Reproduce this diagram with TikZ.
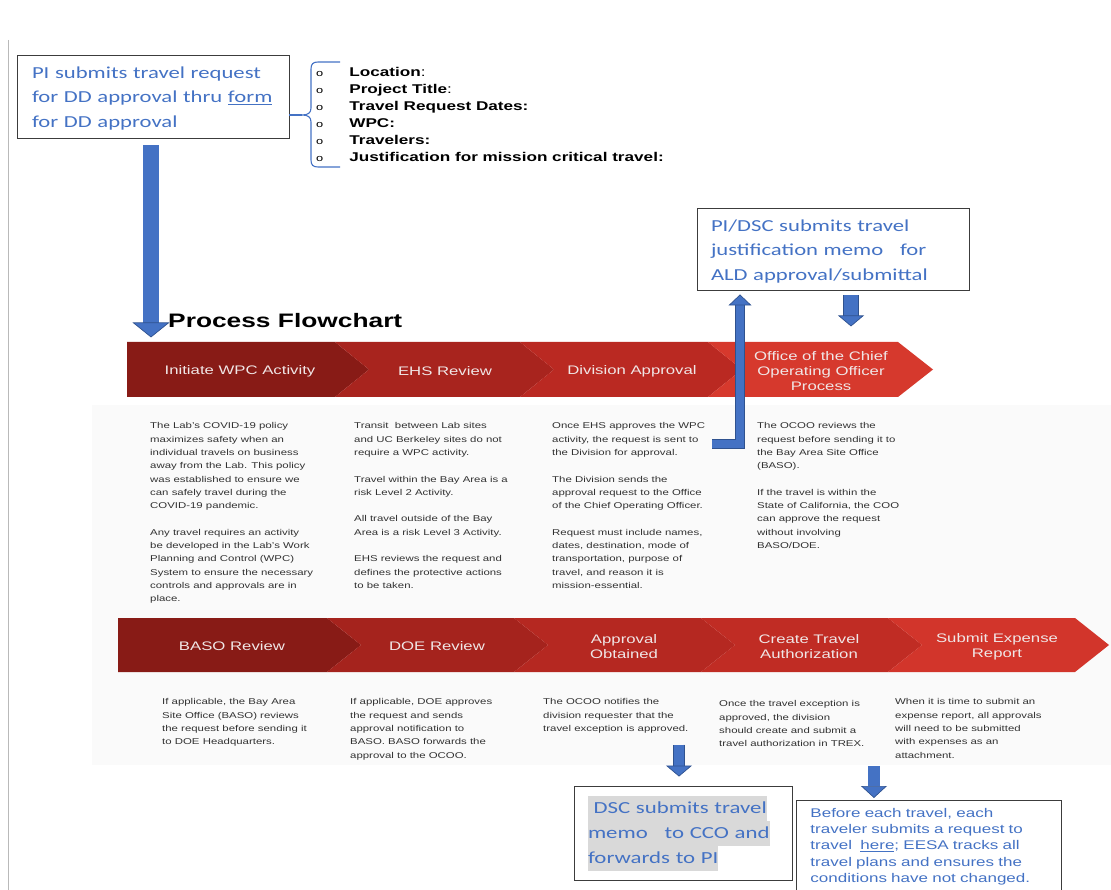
\documentclass[tikz,border=0pt]{standalone}
\usepackage{fontspec}
\setmainfont{Liberation Sans}[FakeStretch=1.35]
\newfontfamily\calfont{Carlito}[FakeStretch=1.35]
\usetikzlibrary{arrows.meta, calc}
\definecolor{memoblue}{RGB}{68,114,196}
\definecolor{arrowblue}{RGB}{68,114,196}
\definecolor{arrowedge}{RGB}{47,82,143}
\definecolor{boxedge}{RGB}{60,60,60}
\definecolor{hlgray}{RGB}{217,217,217}
\definecolor{labelgray}{RGB}{240,230,230}
\definecolor{notegray}{RGB}{50,50,50}
\definecolor{chevA}{RGB}{136,27,22}
\definecolor{chevB}{RGB}{168,36,30}
\definecolor{chevC}{RGB}{186,41,34}
\definecolor{chevD}{RGB}{214,57,45}
\definecolor{chevE}{RGB}{165,35,29}
\definecolor{chevF}{RGB}{181,40,33}
\definecolor{chevG}{RGB}{192,44,36}
\definecolor{chevH}{RGB}{210,53,43}
\tikzstyle{memobox} = [draw=boxedge, line width=0.9pt, inner sep=0,
    align=left, text=memoblue, font=\calfont\fontsize{16.8}{24.5}\selectfont]
\tikzstyle{stage} = [text=labelgray, align=center,
    font=\fontsize{12.4}{15}\selectfont]
\tikzstyle{note} = [anchor=north west, align=left, inner sep=0,
    text=notegray, font=\fontsize{8.45}{13.3}\selectfont, execute at begin node=\strut]
\tikzstyle{blockarrow} = [draw=arrowedge, line width=0.7pt, double=arrowblue]
\tikzstyle{bracket} = [draw=memoblue, line width=1.1pt]
\newcommand{\hlbox}[1]{{\setlength{\fboxsep}{0pt}\colorbox{hlgray}{\strut #1}}}

\begin{document}
\begin{tikzpicture}[x=1pt, y=-1pt]
\useasboundingbox (0,0) rectangle (1111,890);

%% page edge and note band
\draw[gray!55, line width=0.6pt] (8,40) -- (8,890);
\fill[black!2] (92,405) rectangle (1111,765);

%%% travel request
\node[memobox, minimum width=272pt, minimum height=83pt, text width=242pt] (req) at (153,96.5)
    {\rule{0pt}{15pt}PI submits travel request\\for DD approval thru \underline{form}\\for DD approval};

\node[anchor=base west, inner sep=0, font=\fontsize{12.7}{17}\selectfont] (fields) at (316,77)
    {\begin{tabular}[t]{@{}l@{\hspace{26pt}}l@{}}
    {\fontsize{9.5}{17}\selectfont o} & \textbf{Location}: \\
    {\fontsize{9.5}{17}\selectfont o} & \textbf{Project Title}: \\
    {\fontsize{9.5}{17}\selectfont o} & \textbf{Travel Request Dates:} \\
    {\fontsize{9.5}{17}\selectfont o} & \textbf{WPC:} \\
    {\fontsize{9.5}{17}\selectfont o} & \textbf{Travelers:} \\
    {\fontsize{9.5}{17}\selectfont o} & \textbf{Justification for mission critical travel:}
    \end{tabular}};

\coordinate (bracetip) at (302,115);
\draw[bracket] (340,62) -- (318,62) .. controls (313,62) and (311,64) .. (311,69) -- (311,108)
    .. controls (311,113) and (308,115) .. (bracetip) .. controls (308,115) and (311,117) .. (311,122)
    -- (311,160) .. controls (311,165) and (313,167) .. (318,167) -- (340,167);
\draw[bracket] (req.east |- bracetip) -- (bracetip);

%%% first row
\fill[chevA] (127,342) -- (335,342) -- (369,369.5) -- (335,397) -- (127,397) -- cycle;
\fill[chevB] (335,342) -- (520,342) -- (554,369.5) -- (520,397) -- (335,397) -- (369,369.5) -- cycle;
\fill[chevC] (520,342) -- (708,342) -- (742,369.5) -- (708,397) -- (520,397) -- (554,369.5) -- cycle;
\fill[chevD] (708,342) -- (898,342) -- (933,369.5) -- (898,397) -- (708,397) -- (742,369.5) -- cycle;

\node[stage] (init) at (240,371.5) {Initiate WPC Activity};
\node[stage] (ehs) at (445,371.5) {EHS Review};
\node[stage] (div) at (632,371.5) {Division Approval};
\node[stage] (ocoo) at (821,371) {Office of the Chief\\Operating Officer\\Process};

\node[note] (n11) at (150,422.5) {The Lab's COVID-19 policy\\maximizes safety when an\\individual travels on business\\away from the Lab. This policy\\was established to ensure we\\can safely travel during the\\COVID-19 pandemic.\\[13.3pt]Any travel requires an activity\\be developed in the Lab's Work\\Planning and Control (WPC)\\System to ensure the necessary\\controls and approvals are in\\place.};
\node[note] (n12) at (354,422.5) {Transit\ \ between Lab sites\\and UC Berkeley sites do not\\require a WPC activity.\\[13.3pt]Travel within the Bay Area is a\\risk Level 2 Activity.\\[13.3pt]All travel outside of the Bay\\Area is a risk Level 3 Activity.\\[13.3pt]EHS reviews the request and\\defines the protective actions\\to be taken.};
\node[note] (n13) at (552,422.5) {Once EHS approves the WPC\\activity, the request is sent to\\the Division for approval.\\[13.3pt]The Division sends the\\approval request to the Office\\of the Chief Operating Officer.\\[13.3pt]Request must include names,\\dates, destination, mode of\\transportation, purpose of\\travel, and reason it is\\mission-essential.};
\node[note] (n14) at (757,422.5) {The OCOO reviews the\\request before sending it to\\the Bay Area Site Office\\(BASO).\\[13.3pt]If the travel is within the\\State of California, the COO\\can approve the request\\without involving\\BASO/DOE.};

%%% second row
\fill[chevA] (118,618) -- (327,618) -- (361,645) -- (327,672) -- (118,672) -- cycle;
\fill[chevE] (327,618) -- (514,618) -- (548,645) -- (514,672) -- (327,672) -- (361,645) -- cycle;
\fill[chevF] (514,618) -- (701,618) -- (735,645) -- (701,672) -- (514,672) -- (548,645) -- cycle;
\fill[chevG] (701,618) -- (888,618) -- (922,645) -- (888,672) -- (701,672) -- (735,645) -- cycle;
\fill[chevH] (888,618) -- (1075,618) -- (1109,645) -- (1075,672) -- (888,672) -- (922,645) -- cycle;

\node[stage] (baso) at (232,646.5) {BASO Review};
\node[stage] (doe) at (437,646.5) {DOE Review};
\node[stage] (obt) at (624,646.5) {Approval\\Obtained};
\node[stage] (cta) at (809,646.5) {Create Travel\\Authorization};
\node[stage] (ser) at (997,646.5) {Submit Expense\\Report};

\node[note] (n21) at (162,698.5) {If applicable, the Bay Area\\Site Office (BASO) reviews\\the request before sending it\\to DOE Headquarters.};
\node[note] (n22) at (350,698.5) {If applicable, DOE approves\\the request and sends\\approval notification to\\BASO. BASO forwards the\\approval to the OCOO.};
\node[note] (n23) at (543,698.5) {The OCOO notifies the\\division requester that the\\travel exception is approved.};
\node[note] (n24) at (719,700.5) {Once the travel exception is\\approved, the division\\should create and submit a\\travel authorization in TREX.};
\node[note] (n25) at (895,698.5) {When it is time to submit an\\expense report, all approvals\\will need to be submitted\\with expenses as an\\attachment.};

\node[anchor=base west, inner sep=0, font=\bfseries\fontsize{19.5}{22}\selectfont] (title) at (168,328) {Process Flowchart};

%%% memos
\node[memobox, minimum width=272pt, minimum height=82pt, text width=244pt] (memo) at (833,249)
    {\rule{0pt}{16pt}PI/DSC submits travel\\justification memo\ \ \ for\\ALD approval/submittal};
\node[memobox, minimum width=218pt, minimum height=94pt, text width=190pt,
    font=\calfont\fontsize{16.9}{25}\selectfont] (dsc) at (683,833)
    {\hlbox{\ DSC submits travel}\\\hlbox{memo\ \ \ to CCO and}\\\hlbox{forwards to PI}};
\node[memobox, anchor=north west, minimum width=265pt, minimum height=92pt, text width=237pt,
    font=\fontsize{12.6}{16.3}\selectfont] (trav) at (796,800)
    {Before each travel, each\\traveler submits a request to\\travel\ \ \underline{here}; EESA tracks all\\travel plans and ensures the\\conditions have not changed.};

%%% arrows
\coordinate (divnote) at (712,444);
\draw[blockarrow, double distance=15.5pt, -{Triangle[width=37pt, length=15pt, fill=arrowblue, line width=0.7pt]}]
    ($(req.south)+(-2,7)$) -- ($(req.south)+(-2,199)$);
\draw[blockarrow, double distance=8.5pt, -{Triangle[width=23pt, length=11pt, fill=arrowblue, line width=0.7pt]}]
    (divnote) -| ($(memo.south)+(-93,4)$);
\draw[blockarrow, double distance=14.5pt, -{Triangle[width=26pt, length=11pt, fill=arrowblue, line width=0.7pt]}]
    ($(memo.south)+(18,5)$) -- ($(memo.south)+(18,36)$);
\draw[blockarrow, double distance=10pt, -{Triangle[width=26pt, length=11pt, fill=arrowblue, line width=0.7pt]}]
    ($(dsc.north)+(-4,-41)$) -- ($(dsc.north)+(-4,-9)$);
\draw[blockarrow, double distance=11.5pt, -{Triangle[width=26pt, length=12pt, fill=arrowblue, line width=0.7pt]}]
    ($(trav.north)+(-55,-34)$) -- ($(trav.north)+(-55,-2)$);

\end{tikzpicture}
\end{document}
